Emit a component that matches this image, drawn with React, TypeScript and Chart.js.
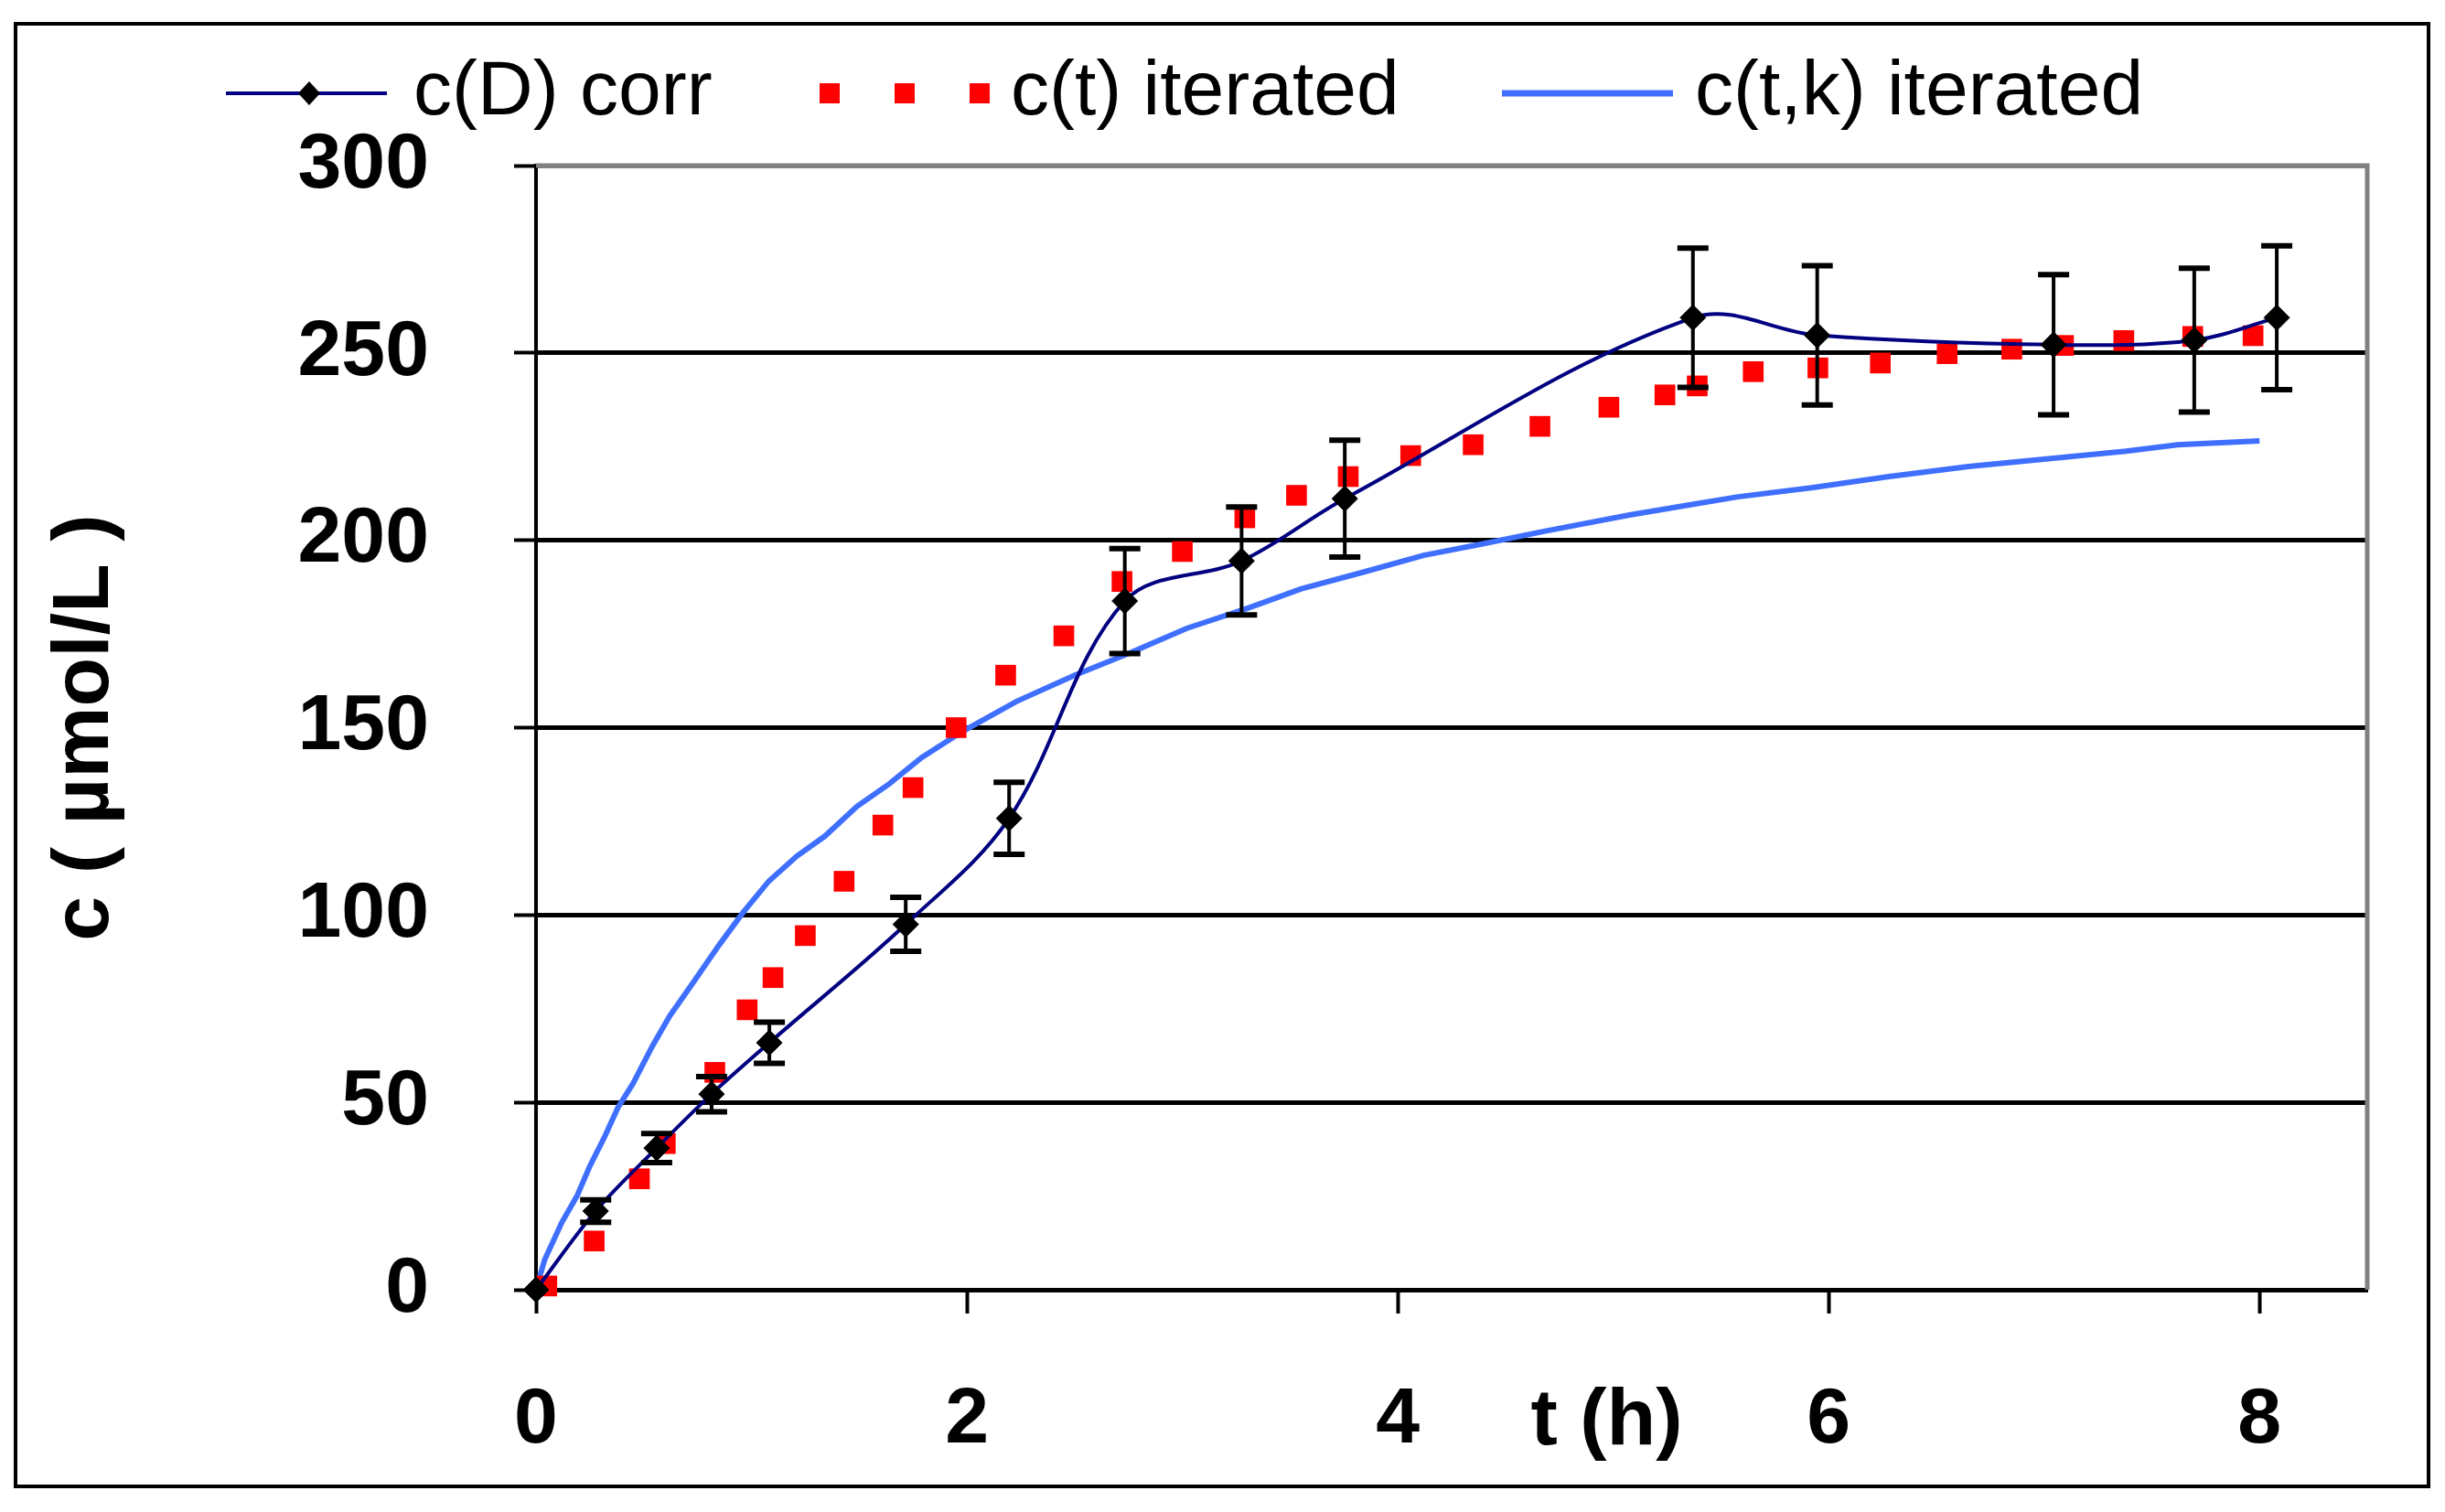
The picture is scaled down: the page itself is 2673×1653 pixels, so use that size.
import React, { useEffect, useRef } from 'react'
import { Chart, registerables } from 'chart.js'

Chart.register(...registerables)

const FONT = '"Liberation Sans", Arial, sans-serif'

// c(D) corr: measured points with error bars
const tCorr = [0, 0.277, 0.56, 0.815, 1.083, 1.716, 2.196, 2.733, 3.275, 3.754, 5.37, 5.947, 7.044, 7.697, 8.08]
const cCorr = [0, 21, 37.8, 52.2, 65.9, 97.5, 125.8, 183.8, 194.5, 211.1, 259.4, 254.7, 252.2, 253.4, 259.4]
const errCorr = [0, 3, 3.9, 4.7, 5.5, 7.2, 9.6, 14, 14.4, 15.6, 18.6, 18.6, 18.7, 19.2, 19.2]

// c(t) iterated (red marks)
const tIter = [0.05, 0.27, 0.48, 0.6, 0.83, 0.98, 1.1, 1.25, 1.43, 1.61, 1.75, 1.95, 2.18, 2.45, 2.72, 3.0, 3.29, 3.53, 3.77, 4.06, 4.35, 4.66, 4.98, 5.24, 5.39, 5.65, 5.95, 6.24, 6.55, 6.85, 7.09, 7.37, 7.69, 7.97]
const cIter = [1, 13, 29.6, 39, 58, 74.7, 83.3, 94.5, 109, 124, 134, 150, 164, 174.5, 189, 197, 206, 212, 217, 222.6, 225.5, 230.4, 235.5, 238.8, 241.2, 245, 246, 247.3, 249.8, 251, 252, 253.3, 254.4, 254.6]

// c(t,k) iterated (blue line)
const tK = [0, 0.04, 0.12, 0.19, 0.25, 0.32, 0.38, 0.45, 0.54, 0.62, 0.73, 0.85, 0.96, 1.08, 1.21, 1.34, 1.49, 1.64, 1.79, 1.98, 2.23, 2.5, 2.76, 3.02, 3.31, 3.55, 3.84, 4.12, 4.39, 4.69, 5.07, 5.36, 5.58, 5.92, 6.28, 6.65, 7.01, 7.38, 7.62, 8.0]
const cK = [0, 8, 18, 25, 33, 41, 48.6, 55, 65, 73, 82, 92, 100.6, 109, 115.7, 121, 129, 135, 142, 149, 157, 164, 170, 176.5, 182, 187, 191.5, 196, 199, 202.5, 206.7, 209.5, 211.6, 214, 217, 219.7, 221.7, 223.8, 225.5, 226.5]

const xTicks = [0, 2, 4, 6, 8]
const legendLabels = ['c(D) corr', 'c(t) iterated', 'c(t,k) iterated']
const xTitle = 't (h)'
const yTitle = 'c ( µmol/L )'

const toPoints = (xs: number[], ys: number[]) => xs.map((x, i) => ({ x, y: ys[i] }))

const extras = {
  id: 'extras',
  beforeDatasetsDraw (chart: any) {
    const { ctx, chartArea: a } = chart
    ctx.save()
    ctx.strokeStyle = '#808080'
    ctx.lineWidth = 5
    ctx.beginPath()
    ctx.moveTo(a.left, a.top)
    ctx.lineTo(a.right, a.top)
    ctx.lineTo(a.right, a.bottom)
    ctx.stroke()
    ctx.restore()
  },
  afterDatasetsDraw (chart: any) {
    const { ctx } = chart
    const xs = chart.scales.x
    const ys = chart.scales.y
    ctx.save()
    ctx.strokeStyle = '#000'
    tCorr.forEach((t, i) => {
      const e = errCorr[i]
      if (!e) return
      const x = xs.getPixelForValue(t)
      const y1 = ys.getPixelForValue(cCorr[i] + e)
      const y2 = ys.getPixelForValue(cCorr[i] - e)
      ctx.lineWidth = 4
      ctx.beginPath()
      ctx.moveTo(x, y1)
      ctx.lineTo(x, y2)
      ctx.stroke()
      ctx.lineWidth = 6
      ctx.beginPath()
      ctx.moveTo(x - 17, y1)
      ctx.lineTo(x + 17, y1)
      ctx.moveTo(x - 17, y2)
      ctx.lineTo(x + 17, y2)
      ctx.stroke()
    })
    ctx.restore()
  },
  afterDraw (chart: any) {
    const { ctx } = chart
    const xs = chart.scales.x
    ctx.save()
    // x axis title, sitting among the tick labels
    ctx.fillStyle = '#000'
    ctx.font = `bold 88px ${FONT}`
    ctx.textAlign = 'center'
    ctx.textBaseline = 'middle'
    ctx.fillText(xTitle, xs.getPixelForValue(4.97), 1527)

    // legend
    const ly = 74
    ctx.font = `84px ${FONT}`
    ctx.textAlign = 'left'
    ctx.strokeStyle = '#000080'
    ctx.lineWidth = 4
    ctx.beginPath()
    ctx.moveTo(228, ly)
    ctx.lineTo(404, ly)
    ctx.stroke()
    ctx.fillStyle = '#000'
    ctx.beginPath()
    ctx.moveTo(319 - 12, ly)
    ctx.lineTo(319, ly - 13)
    ctx.lineTo(319 + 12, ly)
    ctx.lineTo(319, ly + 13)
    ctx.closePath()
    ctx.fill()
    ctx.fillText(legendLabels[0], 433, ly)

    ctx.fillStyle = '#ff0000'
    ;[888, 970, 1052].forEach(x => ctx.fillRect(x - 11, ly - 11, 22, 22))
    ctx.fillStyle = '#000'
    ctx.fillText(legendLabels[1], 1086, ly)

    ctx.strokeStyle = '#3f6fff'
    ctx.lineWidth = 7
    ctx.beginPath()
    ctx.moveTo(1623, ly)
    ctx.lineTo(1810, ly)
    ctx.stroke()
    ctx.fillText(legendLabels[2], 1834, ly)
    ctx.restore()
  }
}

export default function App () {
  const canvasRef = useRef<HTMLCanvasElement>(null)
  const chartRef = useRef<Chart | null>(null)

  useEffect(() => {
    if (chartRef.current) chartRef.current.destroy()
    if (!canvasRef.current) return

    const tickFont = { family: FONT, size: 86, weight: 'bold' as const }

    chartRef.current = new Chart(canvasRef.current, {
      type: 'scatter',
      data: {
        datasets: [
          {
            label: legendLabels[0],
            data: toPoints(tCorr, cCorr),
            showLine: true,
            borderColor: '#000080',
            borderWidth: 4,
            tension: 0.35,
            pointStyle: 'rectRot',
            pointRadius: 14,
            pointBackgroundColor: '#000',
            pointBorderColor: '#000',
            pointBorderWidth: 1,
          },
          {
            label: legendLabels[1],
            data: toPoints(tIter, cIter),
            showLine: false,
            pointStyle: 'rect',
            pointRadius: 16,
            pointBackgroundColor: '#ff0000',
            pointBorderWidth: 0,
          },
          {
            label: legendLabels[2],
            data: toPoints(tK, cK),
            showLine: true,
            borderColor: '#3f6fff',
            borderWidth: 6,
            tension: 0,
            pointRadius: 0,
          },
        ],
      },
      options: {
        animation: false,
        responsive: true,
        maintainAspectRatio: false,
        clip: false,
        layout: { padding: { left: 0, top: 153, right: 65, bottom: 0 } },
        plugins: {
          legend: { display: false },
          tooltip: { enabled: false },
        },
        scales: {
          x: {
            type: 'linear',
            min: 0,
            max: 8.5,
            afterBuildTicks: (scale: any) => {
              scale.ticks = xTicks.map(value => ({ value }))
            },
            afterFit: (scale: any) => { scale.height = 213 },
            ticks: { font: tickFont, color: '#000', padding: 66 },
            grid: {
              drawOnChartArea: false,
              drawTicks: true,
              tickLength: 26,
              tickColor: '#000',
              tickWidth: 4,
            },
            border: { display: true, color: '#000', width: 5 },
          },
          y: {
            min: 0,
            max: 300,
            afterFit: (scale: any) => { scale.width = 567 },
            ticks: { stepSize: 50, font: tickFont, color: '#000', padding: 93 },
            grid: {
              color: (ctx: any) => (ctx.tick && ctx.tick.value === 300 ? '#808080' : '#000'),
              lineWidth: 5,
              tickLength: 24,
              tickColor: '#000',
              tickWidth: 4,
            },
            border: { display: true, color: '#000', width: 4 },
            title: {
              display: true,
              text: yTitle,
              color: '#000',
              font: { family: FONT, size: 88, weight: 'bold' },
              padding: { top: 22, bottom: 0 },
            },
          },
        },
      },
      plugins: [extras],
    })

    return () => {
      if (chartRef.current) {
        chartRef.current.destroy()
        chartRef.current = null
      }
    }
  }, [])

  return (
    <div
      style={{
        position: 'absolute',
        left: 15,
        top: 24,
        width: 2642,
        height: 1603,
        border: '4px solid #000',
        boxSizing: 'border-box',
        background: '#fff',
      }}
    >
      <canvas ref={canvasRef} />
    </div>
  )
}
